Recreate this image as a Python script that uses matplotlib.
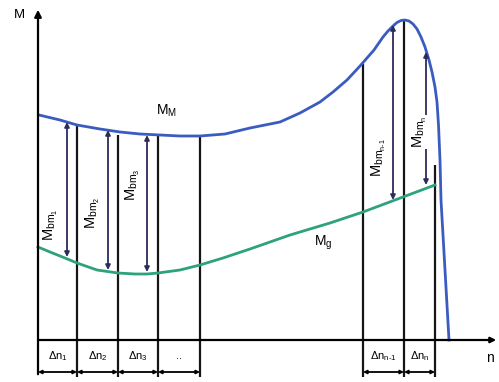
import matplotlib
matplotlib.use('Agg')
import matplotlib.pyplot as plt
import numpy as np

plt.rcParams['font.family'] = ['Liberation Sans', 'DejaVu Sans']
plt.rcParams['mathtext.fontset'] = 'custom'
plt.rcParams['mathtext.rm'] = 'Liberation Sans'
plt.rcParams['mathtext.it'] = 'Liberation Sans:italic'

# M_M curve (n, M), origin at axes crossing
mm_n = np.array([1, 22, 39, 62, 82, 102, 122, 142, 162, 187, 212, 242, 262, 282, 295,
                 309, 322, 336, 345, 350, 355, 359, 363, 367, 371, 375, 379, 383, 387,
                 391, 394, 397, 399, 400.5, 402, 403, 411])
mm_M = np.array([225, 220, 215, 211, 208, 206, 205, 204, 204, 206, 212, 218, 227, 238, 248,
                 260, 274, 290, 303, 309, 314, 317.5, 319.5, 320, 319, 316, 311, 303, 293,
                 280, 268, 253, 238, 215, 180, 140, 0])

# M_g curve
mg_n = np.array([0, 12, 27, 39, 59, 80, 97, 109, 120, 142, 162, 185, 212, 252, 292, 325, 365, 397])
mg_M = np.array([93, 88, 82, 77, 70, 67, 66, 66, 67, 70, 75, 82, 91, 105, 117, 128, 143, 155])

# boundaries of speed intervals
bound_n = [39, 80, 120, 162, 325, 366, 397]
bound_top = [215, 205, 204, 204, 276, 320, 175]

# M_bm arrows
arr_n = [29, 70, 109, 355, 388]
arr_top = [218, 210, 205, 315, 288]
arr_bot = [83, 70, 68, 140, 155]
arr_lab = [r'$\mathrm{M_{bm_1}}$', r'$\mathrm{M_{bm_2}}$', r'$\mathrm{M_{bm_3}}$',
           r'$\mathrm{M_{bm_{n\text{-}1}}}$', r'$\mathrm{M_{bm_n}}$']
lab_n = [13, 55, 95, 341, 382]
lab_M = [115, 127, 155, 182, 208]

# interval labels under the axis
dn_left = [0, 39, 80, 120, 325, 366]
dn_right = [39, 80, 120, 162, 366, 397]
dn_lab = [r'$\mathrm{\Delta n_1}$', r'$\mathrm{\Delta n_2}$', r'$\mathrm{\Delta n_3}$', '..',
          r'$\mathrm{\Delta n_{n\text{-}1}}$', r'$\mathrm{\Delta n_n}$']

fig = plt.figure(figsize=(4.99, 3.82), dpi=100)
ax = fig.add_axes([0, 0, 1, 1])
ax.set_xlim(-38, 461)
ax.set_ylim(-42, 340)
ax.axis('off')

blue = '#3a5cc0'
green = '#2ea27a'
navy = '#2c2c5c'

# axes with arrows
ax.annotate('', xy=(0, 333), xytext=(0, -37),
            arrowprops=dict(arrowstyle='-|>', color='k', lw=1.6, mutation_scale=10))
ax.annotate('', xy=(461, 0), xytext=(-2, 0),
            arrowprops=dict(arrowstyle='-|>', color='k', lw=1.6, mutation_scale=8))

ax.vlines(bound_n, -37, bound_top, color='#151515', lw=1.6)

ax.plot(mm_n, mm_M, color=blue, lw=2)
ax.plot(mg_n, mg_M, color=green, lw=2)

for n, t, b in zip(arr_n, arr_top, arr_bot):
    ax.annotate('', xy=(n, t), xytext=(n, b),
                arrowprops=dict(arrowstyle='<|-|>', color=navy, lw=1.3,
                                mutation_scale=7, shrinkA=0, shrinkB=0))

for n, m, s in zip(lab_n, lab_M, arr_lab):
    ax.text(n, m, s, rotation=90, ha='center', va='center', fontsize=10.5,
            bbox=dict(facecolor='white', edgecolor='none', pad=0.3))

for l, r, s in zip(dn_left, dn_right, dn_lab):
    ax.annotate('', xy=(l, -32), xytext=(r, -32),
                arrowprops=dict(arrowstyle='<|-|>', color='k', lw=1.3,
                                mutation_scale=5, shrinkA=0, shrinkB=0))
    ax.text((l + r) / 2, -16, s, ha='center', va='center', fontsize=8)

ax.text(-19, 325, 'M', ha='center', va='center', fontsize=9.5)
ax.text(128, 229, r'$\mathrm{M_M}$', ha='center', va='center', fontsize=10)
ax.text(285, 97, r'$\mathrm{M_g}$', ha='center', va='center', fontsize=10)
ax.text(452, -18, 'n', ha='center', va='center', fontsize=10)

fig.savefig('out.png', dpi=100)
